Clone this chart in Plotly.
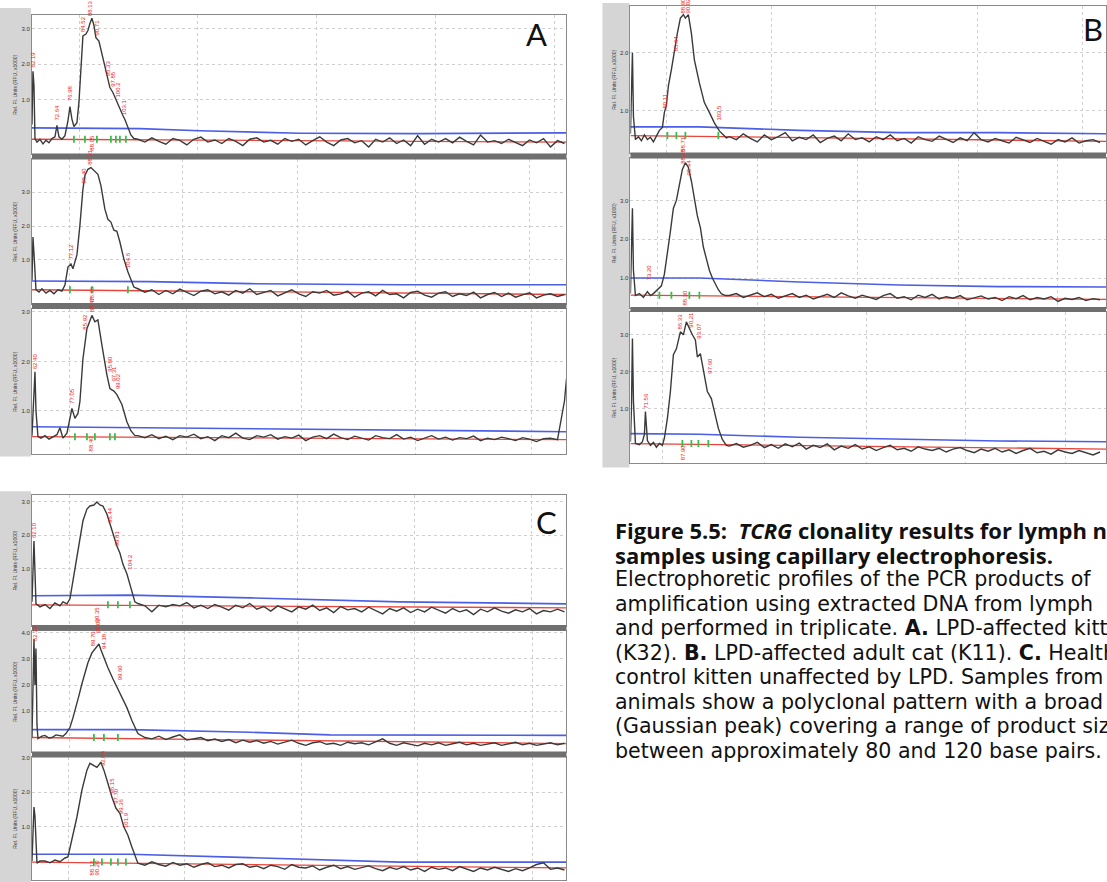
import plotly.graph_objects as go

W, H = 1107, 882

# scan positions of the flat tail after the peak (A and C panels / B panel)
tail_x_ac = [138, 145, 152, 159, 166, 173, 180, 187, 194, 201, 208, 215, 222, 229, 236, 243, 250, 257, 264, 271,
             278, 285, 292, 299, 306, 313, 320, 327, 334, 341, 348, 355, 362, 369, 376, 383, 390, 397, 404, 411,
             418, 425, 432, 439, 446, 453, 460, 467, 474, 481, 488, 495, 502, 509, 516, 523, 530, 537, 544, 551,
             558, 565]
tail_x_b = [730, 737, 744, 751, 758, 765, 772, 779, 786, 793, 800, 807, 814, 821, 828, 835, 842, 849, 856, 863,
            870, 877, 884, 891, 898, 905, 912, 919, 926, 933, 940, 947, 954, 961, 968, 975, 982, 989, 996, 1003,
            1010, 1017, 1024, 1031, 1038, 1045, 1052, 1059, 1066, 1073, 1080, 1087, 1094, 1101]

# ---- panel A (LPD-affected kitten K32) ----
a1_x = [32, 33, 34, 35, 37, 40, 43, 46, 49, 52, 55, 57, 59, 62, 65, 68, 70, 72, 74, 77, 79, 81, 83, 86, 88, 90,
        92, 94, 96, 99, 101, 104, 107, 110, 113, 117, 120, 123, 125, 128, 131, 134]
a1_y = [0.3, 1.8, 1.4, -0.1, -0.2, -0.12, -0.25, -0.15, -0.22, -0.1, -0.05, 0.27, -0.05, -0.12, -0.02, 0.4, 0.8,
        0.45, 0.24, 0.35, 0.92, 2.0, 2.8, 2.85, 2.95, 3.15, 3.3, 3.1, 2.75, 2.65, 2.4, 2.05, 1.7, 1.34, 1.2, 0.92,
        0.75, 0.55, 0.44, 0.2, 0.0, -0.1]
a1_tail = [-0.12, -0.2, -0.08, -0.18, -0.26, -0.1, -0.15, -0.28, -0.12, -0.06, -0.2, -0.14, -0.24, -0.1, -0.18,
           -0.3, -0.12, -0.08, -0.2, -0.15, -0.26, -0.1, -0.18, -0.12, -0.28, -0.16, -0.05, -0.2, -0.3, -0.14,
           -0.1, -0.22, -0.16, -0.34, -0.12, -0.2, -0.08, -0.24, -0.14, -0.3, -0.02, -0.26, -0.12, -0.2, -0.1,
           -0.22, -0.06, -0.18, -0.28, 0.0, -0.2, -0.16, -0.24, -0.12, -0.2, -0.3, -0.14, -0.22, -0.1, -0.34,
           -0.16, -0.24]
a1_red = [-0.12, -0.2]
a1_blue_x = [32, 140, 200, 300, 420, 567]
a1_blue = [0.2, 0.18, 0.12, 0.05, 0.04, 0.06]
a1_green = [74, 85, 97, 111, 116, 120, 126]
a1_lab_x = [34, 57, 70, 83, 90, 97, 108, 113, 118, 124, 92]
a1_lab_y = [1.85, 0.35, 0.9, 2.85, 3.3, 2.75, 1.6, 1.3, 1.0, 0.5, -0.5]
a1_lab_t = ["62.19", "72.64", "76.98", "84.52", "88.13", "90.71", "95.33", "97.85", "100.2", "103.1", "88.05"]

a2_x = [32, 33, 34, 36, 39, 42, 46, 50, 54, 58, 62, 65, 68, 71, 73, 77, 80, 83, 85, 88, 91, 95, 98, 101, 105, 108,
        111, 114, 117, 120, 124, 128, 131, 134]
a2_y = [0.4, 1.68, 1.2, 0.12, 0.05, 0.15, 0.02, 0.1, 0.0, 0.12, 0.08, 0.26, 0.79, 0.88, 0.74, 1.15, 2.03, 3.09,
        3.5, 3.68, 3.73, 3.62, 3.53, 3.2, 2.5, 2.2, 2.12, 1.88, 1.85, 1.53, 1.03, 0.65, 0.4, 0.2]
a2_tail = [0.15, 0.05, 0.12, -0.02, 0.1, 0.0, 0.14, 0.04, -0.05, 0.08, 0.12, 0.0, 0.06, -0.04, 0.1, 0.02, 0.15,
           -0.02, 0.05, 0.1, -0.06, 0.04, 0.12, 0.0, -0.08, 0.06, 0.02, 0.1, -0.04, 0.0, 0.08, -0.1, 0.02, 0.06,
           -0.06, 0.1, -0.02, 0.0, -0.12, 0.04, 0.08, -0.04, -0.1, 0.02, 0.06, -0.08, 0.0, -0.05, 0.05, -0.12,
           -0.02, 0.04, -0.08, 0.02, -0.1, -0.03, 0.03, -0.12, -0.04, 0.0, -0.08, -0.02]
a2_red = [0.12, -0.02]
a2_blue_x = [32, 150, 250, 400, 567]
a2_blue = [0.38, 0.36, 0.3, 0.27, 0.27]
a2_green = [70, 92, 128]
a2_lab_x = [71, 84, 90, 128, 92]
a2_lab_y = [0.95, 3.2, 3.75, 0.7, -0.3]
a2_lab_t = ["77.12", "85.40", "88.31", "104.6", "88.96"]

a3_x = [32, 34, 35, 36, 38, 41, 45, 49, 53, 57, 60, 63, 67, 70, 72, 75, 78, 80, 83, 87, 90, 92, 95, 98, 102, 105,
        107, 110, 114, 117, 122, 127, 131, 135]
a3_y = [0.5, 1.2, 1.79, 1.0, 0.48, 0.45, 0.5, 0.43, 0.48, 0.52, 0.66, 0.45, 0.55, 0.9, 1.05, 0.85, 0.95, 1.19,
        2.05, 2.66, 2.85, 2.93, 2.8, 2.84, 2.33, 1.95, 1.73, 1.45, 1.4, 1.33, 1.13, 0.78, 0.6, 0.5]
a3_tail = [0.5, 0.46, 0.52, 0.44, 0.49, 0.42, 0.5, 0.47, 0.53, 0.44, 0.48, 0.4, 0.5, 0.46, 0.55, 0.45, 0.42, 0.5,
           0.47, 0.52, 0.43, 0.48, 0.45, 0.51, 0.4, 0.47, 0.5, 0.44, 0.53, 0.46, 0.42, 0.49, 0.45, 0.41, 0.5, 0.46,
           0.44, 0.52, 0.43, 0.47, 0.4, 0.45, 0.5, 0.43, 0.47, 0.41, 0.46, 0.44, 0.49, 0.4, 0.45, 0.42, 0.47, 0.44,
           0.4, 0.46, 0.43, 0.38, 0.44, 0.45, 0.42, 1.2]
a3_end_x = [567]
a3_end_y = [1.65]
a3_red = [0.48, 0.42]
a3_blue_x = [32, 150, 300, 450, 567]
a3_blue = [0.68, 0.66, 0.64, 0.6, 0.58]
a3_green = [75, 87, 95, 110, 115]
a3_lab_x = [35, 72, 85, 92, 110, 114, 118, 92]
a3_lab_y = [1.8, 1.1, 2.6, 2.95, 1.75, 1.55, 1.4, 0.14]
a3_lab_t = ["62.40", "77.05", "85.92", "88.47", "95.80", "97.31", "99.02", "88.40"]

# ---- panel B (LPD-affected adult cat K11) ----
b1_x = [631, 632, 633, 634, 636, 639, 642, 645, 648, 651, 654, 657, 660, 663, 665, 667, 669, 672, 675, 678, 681,
        684, 686, 689, 692, 695, 700, 705, 710, 715, 720, 724, 727]
b1_y = [0.6, 1.2, 2.0, 0.9, 0.5, 0.55, 0.48, 0.58, 0.5, 0.54, 0.46, 0.56, 0.66, 0.71, 0.97, 1.09, 1.43, 1.71,
        2.05, 2.34, 2.6, 2.66, 2.6, 2.66, 2.34, 1.88, 1.48, 1.14, 0.97, 0.79, 0.65, 0.58, 0.53]
b1_tail = [0.55, 0.5, 0.6, 0.52, 0.46, 0.58, 0.5, 0.55, 0.62, 0.48, 0.54, 0.5, 0.58, 0.45, 0.52, 0.56, 0.48, 0.6,
           0.5, 0.53, 0.46, 0.55, 0.5, 0.58, 0.48, 0.52, 0.44, 0.55, 0.5, 0.47, 0.56, 0.5, 0.45, 0.53, 0.48, 0.62,
           0.5, 0.46, 0.52, 0.48, 0.44, 0.54, 0.49, 0.45, 0.52, 0.47, 0.42, 0.5, 0.46, 0.53, 0.44, 0.48, 0.5, 0.45]
b1_red = [0.57, 0.47]
b1_blue_x = [631, 700, 800, 900, 1000, 1107]
b1_blue = [0.72, 0.72, 0.66, 0.62, 0.62, 0.6]
b1_green = [668, 677, 686, 719]
b1_lab_x = [666, 676, 684, 689, 720, 684]
b1_lab_y = [1.0, 2.0, 2.65, 2.65, 0.8, 0.26]
b1_lab_t = ["80.11", "85.64", "88.90", "90.02", "103.5", "88.71"]

b2_x = [631, 632, 633, 634, 636, 640, 644, 648, 651, 654, 658, 662, 665, 668, 671, 674, 677, 680, 683, 686, 689,
        692, 695, 698, 701, 704, 707, 710, 713, 716, 719, 722, 726]
b2_y = [0.6, 1.5, 2.8, 1.2, 0.55, 0.6, 0.5, 0.65, 0.55, 0.6, 0.7, 0.8, 1.1, 1.6, 2.2, 2.8, 3.0, 3.4, 3.8, 3.97,
        3.85, 3.5, 3.0, 2.6, 2.3, 1.8, 1.5, 1.2, 1.0, 0.85, 0.7, 0.6, 0.55]
b2_tail = [0.55, 0.6, 0.5, 0.56, 0.62, 0.52, 0.58, 0.48, 0.55, 0.6, 0.5, 0.56, 0.46, 0.52, 0.58, 0.5, 0.62, 0.54,
           0.48, 0.56, 0.5, 0.45, 0.55, 0.6, 0.48, 0.52, 0.44, 0.56, 0.5, 0.58, 0.46, 0.52, 0.48, 0.55, 0.44, 0.5,
           0.54, 0.46, 0.5, 0.42, 0.52, 0.47, 0.55, 0.44, 0.5, 0.46, 0.52, 0.4, 0.48, 0.45, 0.5, 0.42, 0.47, 0.44]
b2_red = [0.56, 0.45]
b2_blue_x = [631, 700, 800, 900, 1000, 1107]
b2_blue = [1.0, 1.0, 0.9, 0.82, 0.78, 0.77]
b2_green = [660, 672, 690, 700]
b2_lab_x = [650, 684, 690, 686]
b2_lab_y = [0.9, 3.9, 3.6, 0.25]
b2_lab_t = ["73.20", "88.25", "90.44", "88.30"]

b3_x = [631, 632, 633, 634, 636, 640, 643, 645, 646, 648, 651, 654, 657, 660, 663, 665, 668, 671, 674, 677, 681,
        684, 687, 690, 693, 696, 698, 701, 704, 708, 712, 715, 719, 723, 727]
b3_y = [0.1, 1.0, 2.9, 1.2, 0.05, 0.02, 0.1, 0.3, 0.92, 0.13, 0.0, 0.08, -0.05, 0.05, 0.0, 0.2, 0.73, 1.46, 2.46,
        2.62, 3.08, 3.0, 3.35, 3.16, 3.0, 2.86, 2.4, 2.49, 2.08, 1.46, 1.27, 0.92, 0.46, 0.16, 0.0]
b3_tail = [-0.02, 0.05, -0.05, 0.0, 0.08, -0.06, 0.02, -0.08, 0.04, -0.04, 0.06, -0.1, 0.0, -0.06, 0.04, -0.12,
           -0.02, -0.08, 0.02, -0.1, -0.04, -0.14, -0.06, 0.0, -0.12, -0.08, -0.16, -0.04, -0.1, -0.14, -0.08,
           -0.18, -0.1, -0.06, -0.14, -0.2, -0.1, -0.16, -0.08, -0.18, -0.12, -0.22, -0.14, -0.08, -0.2, -0.16,
           -0.24, -0.12, -0.18, -0.22, -0.14, -0.2, -0.26, -0.18]
b3_red = [0.05, -0.1]
b3_blue_x = [631, 700, 800, 900, 1000, 1107]
b3_blue = [0.32, 0.3, 0.22, 0.16, 0.12, 0.1]
b3_green = [683, 692, 699, 709]
b3_lab_x = [647, 681, 692, 700, 711, 684]
b3_lab_y = [0.95, 3.1, 3.15, 2.85, 1.9, -0.45]
b3_lab_t = ["71.56", "86.33", "90.21", "93.07", "97.60", "87.90"]

# ---- panel C (healthy control kitten) ----
c1_x = [32, 33, 34, 35, 36, 38, 40, 45, 50, 55, 60, 63, 67, 70, 73, 77, 80, 83, 87, 90, 94, 97, 100, 103, 107,
        110, 113, 117, 120, 123, 127, 130, 133, 135]
c1_y = [0.0, 1.0, 1.82, 0.9, -0.06, -0.1, -0.15, -0.08, -0.2, -0.03, -0.12, 0.0, -0.06, 0.09, 0.63, 1.31, 1.91,
        2.42, 2.78, 2.87, 2.9, 2.99, 2.9, 2.87, 2.63, 2.33, 2.03, 1.67, 1.46, 1.13, 0.84, 0.54, 0.18, 0.0]
c1_tail = [-0.05, -0.12, -0.3, -0.1, -0.15, -0.08, -0.12, -0.02, -0.18, -0.1, -0.2, -0.08, -0.16, -0.25, -0.1,
           -0.18, -0.05, -0.22, -0.14, -0.28, -0.12, -0.2, -0.3, -0.15, -0.22, -0.1, -0.26, -0.18, -0.32, -0.14,
           -0.24, -0.2, -0.3, -0.16, -0.26, -0.36, -0.2, -0.28, -0.18, -0.32, -0.22, -0.3, -0.16, -0.26, -0.34,
           -0.2, -0.3, -0.24, -0.38, -0.22, -0.3, -0.18, -0.28, -0.34, -0.24, -0.3, -0.2, -0.36, -0.26, -0.3,
           -0.22, -0.3]
c1_red = [-0.09, -0.18]
c1_blue_x = [32, 130, 250, 400, 567]
c1_blue = [0.18, 0.2, 0.12, 0.0, -0.06]
c1_green = [108, 118, 130]
c1_lab_x = [34, 110, 118, 130, 97]
c1_lab_y = [1.85, 2.3, 1.6, 0.9, -0.68]
c1_lab_t = ["62.10", "96.44", "99.81", "104.2", "90.35"]

c2_x = [32, 33, 34, 35, 36, 37, 38, 42, 45, 49, 52, 56, 60, 63, 66, 70, 73, 76, 79, 82, 85, 88, 92, 96, 99, 101,
        104, 108, 113, 118, 122, 127, 132, 135]
c2_y = [0.0, 2.5, 3.76, 2.0, 3.4, 0.5, -0.04, 0.05, 0.08, -0.02, 0.0, 0.1, 0.08, 0.05, 0.15, 0.38, 0.75, 1.14,
        1.6, 2.05, 2.45, 2.85, 3.23, 3.42, 3.57, 3.35, 3.04, 2.66, 2.24, 1.86, 1.52, 1.14, 0.65, 0.4]
c2_tail = [0.15, 0.0, -0.05, 0.05, -0.08, 0.02, 0.1, -0.1, -0.04, 0.0, -0.12, -0.06, -0.15, -0.08, -0.2, -0.1,
           -0.18, -0.12, -0.22, -0.15, -0.25, -0.18, -0.1, -0.22, -0.3, -0.2, -0.16, -0.26, -0.22, -0.3, -0.18,
           -0.24, -0.2, -0.28, -0.15, -0.05, -0.22, -0.3, -0.2, -0.26, -0.32, -0.22, -0.28, -0.2, -0.3, -0.24,
           -0.18, -0.28, -0.22, -0.3, -0.26, -0.2, -0.3, -0.24, -0.18, -0.28, -0.22, -0.3, -0.25, -0.2, -0.28,
           -0.22]
c2_red = [0.0, -0.23]
c2_blue_x = [32, 130, 250, 330, 567]
c2_blue = [0.3, 0.3, 0.2, 0.1, 0.08]
c2_green = [94, 104, 118]
c2_lab_x = [35, 94, 98, 104, 121]
c2_lab_y = [3.6, 3.4, 3.9, 3.3, 2.1]
c2_lab_t = ["62.33", "89.70", "91.02", "94.18", "99.60"]

c3_x = [32, 33, 34, 35, 36, 37, 40, 45, 50, 55, 60, 65, 68, 72, 77, 82, 87, 90, 94, 97, 101, 104, 108, 112, 116,
        120, 124, 128, 132, 135]
c3_y = [0.0, 0.8, 1.57, 1.3, 0.3, -0.06, 0.0, 0.0, -0.05, 0.03, -0.02, 0.09, 0.12, 0.6, 1.28, 2.06, 2.64, 2.84,
        2.78, 2.72, 2.87, 2.64, 2.26, 1.86, 1.54, 1.39, 0.99, 0.75, 0.41, 0.2]
c3_tail = [-0.06, -0.12, -0.02, -0.1, -0.15, -0.04, -0.12, -0.08, -0.18, -0.1, -0.05, -0.16, -0.12, -0.2, -0.1,
           -0.08, -0.18, -0.14, -0.22, -0.12, -0.16, -0.24, -0.1, -0.18, -0.2, -0.14, -0.26, -0.18, -0.12, -0.22,
           -0.16, -0.24, -0.2, -0.14, -0.22, -0.28, -0.18, -0.24, -0.16, -0.26, -0.2, -0.3, -0.18, -0.24, -0.2,
           -0.28, -0.16, -0.22, -0.3, -0.2, -0.26, -0.18, -0.24, -0.3, -0.22, -0.28, -0.2, -0.1, -0.05, -0.24,
           -0.2, -0.26]
c3_red = [-0.03, -0.2]
c3_blue_x = [32, 130, 250, 400, 567]
c3_blue = [0.2, 0.2, 0.1, -0.03, -0.03]
c3_green = [94, 102, 111, 118, 126]
c3_lab_x = [103, 112, 116, 121, 126, 92, 97]
c3_lab_y = [2.7, 1.9, 1.6, 1.3, 0.9, -0.48, -0.48]
c3_lab_t = ["92.04", "96.15", "97.70", "99.36", "101.9", "88.12", "90.20"]

caption_title = [
    "Figure 5.5:  <i>TCRG</i> clonality results for lymph node",
    "samples using capillary electrophoresis.",
]
caption_body = [
    "Electrophoretic profiles of the PCR products of",
    "amplification using extracted DNA from lymph",
    "and performed in triplicate. <b>A.</b> LPD-affected kitten",
    "(K32). <b>B.</b> LPD-affected adult cat (K11). <b>C.</b> Healthy",
    "control kitten unaffected by LPD. Samples from",
    "animals show a polyclonal pattern with a broad",
    "(Gaussian peak) covering a range of product sizes",
    "between approximately 80 and 120 base pairs.",
]

AC = (32, 567)
B = (631, 1107)
# trace data, plot box (px), y range, y ticks, vertical grid positions
panels = [
    (a1_x, a1_y, tail_x_ac, a1_tail, [], [], a1_red, a1_blue_x, a1_blue, a1_green, a1_lab_x, a1_lab_y, a1_lab_t,
     AC, (12, 152), (-0.55, 3.39), [1, 2, 3], [80, 198, 317, 436, 555]),
    (a2_x, a2_y, tail_x_ac, a2_tail, [], [], a2_red, a2_blue_x, a2_blue, a2_green, a2_lab_x, a2_lab_y, a2_lab_t,
     AC, (157, 302), (-0.3, 3.97), [1, 2, 3], [70, 183, 298, 416, 530]),
    (a3_x, a3_y, tail_x_ac, a3_tail, a3_end_x, a3_end_y, a3_red, a3_blue_x, a3_blue, a3_green, a3_lab_x, a3_lab_y,
     a3_lab_t, AC, (307, 453), (0.12, 3.06), [1, 2, 3], [70, 187, 302, 416, 532]),
    (b1_x, b1_y, tail_x_b, b1_tail, [], [], b1_red, b1_blue_x, b1_blue, b1_green, b1_lab_x, b1_lab_y, b1_lab_t,
     B, (3, 151), (0.26, 2.81), [1, 2], [667, 772, 876, 978, 1083]),
    (b2_x, b2_y, tail_x_b, b2_tail, [], [], b2_red, b2_blue_x, b2_blue, b2_green, b2_lab_x, b2_lab_y, b2_lab_t,
     B, (156, 306), (0.23, 4.08), [1, 2, 3], [658, 758, 858, 959, 1058]),
    (b3_x, b3_y, tail_x_b, b3_tail, [], [], b3_red, b3_blue_x, b3_blue, b3_green, b3_lab_x, b3_lab_y, b3_lab_t,
     B, (310, 462), (-0.49, 3.62), [1, 2, 3], [663, 765, 867, 966, 1066]),
    (c1_x, c1_y, tail_x_ac, c1_tail, [], [], c1_red, c1_blue_x, c1_blue, c1_green, c1_lab_x, c1_lab_y, c1_lab_t,
     AC, (494, 625), (-0.72, 3.19), [1, 2, 3], [70, 183, 298, 415, 532]),
    (c2_x, c2_y, tail_x_ac, c2_tail, [], [], c2_red, c2_blue_x, c2_blue, c2_green, c2_lab_x, c2_lab_y, c2_lab_t,
     AC, (630, 752), (-0.57, 4.07), [1, 2, 3, 4], [70, 185, 299, 415, 533]),
    (c3_x, c3_y, tail_x_ac, c3_tail, [], [], c3_red, c3_blue_x, c3_blue, c3_green, c3_lab_x, c3_lab_y, c3_lab_t,
     AC, (757, 880), (-0.55, 3.01), [1, 2, 3], [69, 185, 302, 418, 533]),
]

fig = go.Figure()
layout = dict(width=W, height=H, margin=dict(l=0, r=0, t=0, b=0), paper_bgcolor="white",
              plot_bgcolor="white", showlegend=False, shapes=[], annotations=[])

GRID = "#cfcfcf"
for k, p in enumerate(panels, start=1):
    (px, py, tx, ty, ex, ey, red, bx, by, green, lx, ly, lt, xr, box, yr, yt, gx) = p
    xref = "x" if k == 1 else f"x{k}"
    yref = "y" if k == 1 else f"y{k}"
    common = dict(xaxis=xref, yaxis=yref, hoverinfo="skip")
    fig.add_trace(go.Scatter(x=bx, y=by, mode="lines", line=dict(color="#4b5ee8", width=1.6), **common))
    fig.add_trace(go.Scatter(x=list(xr), y=red, mode="lines", line=dict(color="#e8463c", width=1.3), **common))
    fig.add_trace(go.Scatter(x=px + tx + ex, y=py + ty + ey, mode="lines",
                             line=dict(color="#3a3a3a", width=1.4), **common))
    fig.add_trace(go.Scatter(x=green, y=[red[0]] * len(green), mode="markers",
                             marker=dict(symbol="line-ns-open", size=5, color="#35c04a",
                                         line=dict(color="#35c04a", width=1.8)),
                             **common))
    for x, y, t in zip(lx, ly, lt):
        layout["annotations"].append(dict(x=x, y=y, xref=xref, yref=yref, text=t, showarrow=False,
                                          textangle=-90, yanchor="bottom", xanchor="center",
                                          font=dict(size=6, color="#ee2222", family="Arial")))
    layout["xaxis" if k == 1 else f"xaxis{k}"] = dict(
        domain=[xr[0] / W, min(xr[1] / W, 1.0)], range=list(xr), anchor=yref,
        tickvals=gx, showticklabels=False, ticks="", showgrid=True, gridcolor=GRID, griddash="dot",
        gridwidth=1, zeroline=False, showline=True, mirror=True, linecolor="#8a8a8a", linewidth=1)
    layout["yaxis" if k == 1 else f"yaxis{k}"] = dict(
        domain=[1 - box[1] / H, 1 - box[0] / H], range=list(yr), anchor=xref,
        tickvals=yt, ticktext=[f"{v:.1f}" for v in yt], tickfont=dict(size=6, color="#333333", family="Arial"),
        ticks="", showgrid=True, gridcolor=GRID, griddash="dot", gridwidth=1, zeroline=False,
        showline=True, mirror=True, linecolor="#8a8a8a", linewidth=1,
        title=dict(text="Rel. Fl. Units (RFU, x1000)", font=dict(size=5, color="#333333", family="Arial"),
                   standoff=3))

def px_rect(x0, y0, x1, y1, color, layer="above"):
    return dict(type="rect", xref="paper", yref="paper", x0=x0 / W, x1=x1 / W, y0=1 - y1 / H, y1=1 - y0 / H,
                fillcolor=color, line=dict(width=0), layer=layer)

# grey side strips of the instrument windows
layout["shapes"] += [
    px_rect(0, 5, 31, 455, "#d5d5d5", "below"),
    px_rect(603, 0, 630, 466, "#d5d5d5", "below"),
    px_rect(0, 490, 31, 882, "#d5d5d5", "below"),
]
# thick separators between stacked runs
layout["shapes"] += [
    px_rect(32, 151, 567, 157, "#6f6f6f"),
    px_rect(32, 301, 567, 307, "#6f6f6f"),
    px_rect(631, 150, 1107, 156, "#6f6f6f"),
    px_rect(631, 305, 1107, 310, "#6f6f6f"),
    px_rect(32, 624, 567, 630, "#6f6f6f"),
    px_rect(32, 751, 567, 757, "#6f6f6f"),
]

for letter, cx, cy, anchor in [("A", 537, 31, "center"), ("B", 1106, 26, "right"), ("C", 547, 521, "center")]:
    layout["annotations"].append(dict(x=cx / W, y=1 - cy / H, xref="paper", yref="paper", text=letter,
                                      showarrow=False, xanchor=anchor, yanchor="middle",
                                      font=dict(size=31, color="#111111", family="Lato")))

for i, line in enumerate(caption_title):
    yc = 529 + i * 24.6
    layout["annotations"].append(dict(x=614 / W, y=1 - yc / H, xref="paper", yref="paper", text=line,
                                      showarrow=False, xanchor="left", yanchor="middle", align="left",
                                      font=dict(size=22, color="#111111", family="Open Sans", weight="bold")))
for i, line in enumerate(caption_body):
    yc = 529 + (i + 2) * 24.6
    layout["annotations"].append(dict(x=614 / W, y=1 - yc / H, xref="paper", yref="paper", text=line,
                                      showarrow=False, xanchor="left", yanchor="middle", align="left",
                                      font=dict(size=20.6, color="#111111", family="DejaVu Sans")))

fig.update_layout(**layout)
fig.write_html("out.html", config={"displayModeBar": False},
               post_script="document.body.style.margin='0px';")
